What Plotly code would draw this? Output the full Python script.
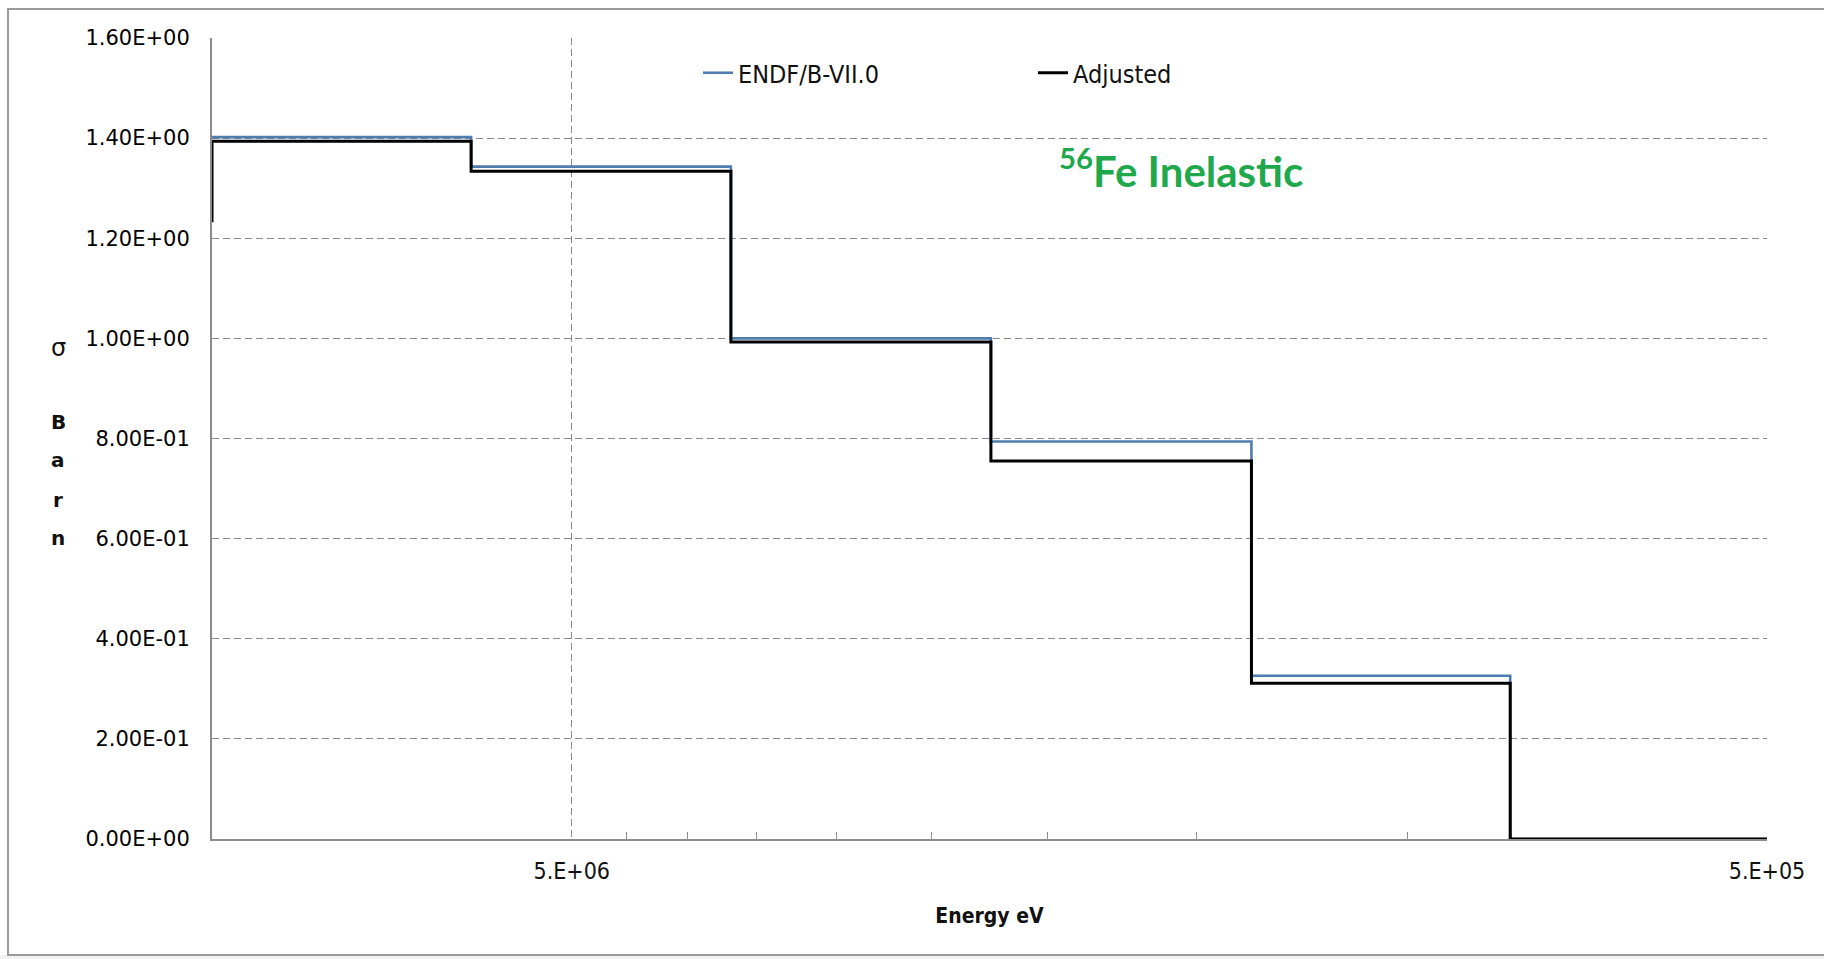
import plotly.graph_objects as go

# ---- data ----
energy_edges_endf = [1.0e7, 6.07e6, 3.68e6, 2.23e6, 1.35e6, 8.2e5, 5.0e5]
sigma_endf = [1.402, 1.343, 1.000, 0.794, 0.326, 0.0, 0.0]

energy_edges_adj = [1.0e7, 1.0e7, 6.07e6, 3.68e6, 2.23e6, 1.35e6, 8.2e5, 5.0e5]
sigma_adj = [1.232, 1.394, 1.334, 0.993, 0.755, 0.311, 0.0, 0.0]

y_tickvals = [0.0, 0.2, 0.4, 0.6, 0.8, 1.0, 1.2, 1.4, 1.6]
y_ticktext = ["0.00E+00", "2.00E-01", "4.00E-01", "6.00E-01", "8.00E-01",
              "1.00E+00", "1.20E+00", "1.40E+00", "1.60E+00"]
x_tickvals = [5.0e6, 5.0e5]
x_ticktext = ["5.E+06", "5.E+05"]
x_minor_vals = [4.5e6, 4.0e6, 3.5e6, 3.0e6, 2.5e6, 2.0e6, 1.5e6, 1.0e6]

series_names = ["ENDF/B-VII.0", "Adjusted"]
title_text = "<sup>56</sup>Fe Inelastic"

# ---- layout constants ----
W, H = 1824, 959
ML, MR, MT, MB = 212, 57, 38, 120
PW, PH = W - ML - MR, H - MT - MB

def px_x(px):
    return (px - ML) / PW

def px_y(py):
    return (H - MB - py) / PH

GRID = "#8a8a8a"
COND = "DejaVu Sans Condensed, Liberation Sans Narrow, DejaVu Sans"

fig = go.Figure()
fig.add_trace(go.Scatter(
    x=energy_edges_endf, y=sigma_endf, mode="lines", line_shape="hv",
    name=series_names[0], line=dict(color="#4F7DAF", width=2.6)))
fig.add_trace(go.Scatter(
    x=energy_edges_adj, y=sigma_adj, mode="lines", line_shape="hv",
    name=series_names[1], line=dict(color="#000000", width=3)))

fig.update_layout(
    width=W, height=H,
    margin=dict(l=ML, r=MR, t=MT, b=MB),
    paper_bgcolor="white", plot_bgcolor="white",
    showlegend=True,
    legend=dict(orientation="h", x=px_x(698), y=px_y(73), xanchor="left", yanchor="middle",
                font=dict(family=COND, size=25, color="#111"),
                entrywidth=290, entrywidthmode="pixels",
                bgcolor="rgba(0,0,0,0)", itemwidth=30),
    xaxis=dict(type="log", range=[7.0, 5.69897], autorange=False,
               tickmode="array", tickvals=x_tickvals, ticktext=x_ticktext,
               tickfont=dict(family=COND, size=23, color="#111"),
               ticks="", ticklabelstandoff=10,
               showgrid=True, gridcolor=GRID, griddash="7px,4px", gridwidth=1,
               showline=True, linecolor="#8c8c8c", linewidth=2, mirror=False,
               zeroline=False,
               minor=dict(tickmode="array", tickvals=x_minor_vals, ticks="inside",
                          ticklen=7, tickcolor="#8c8c8c", tickwidth=1, showgrid=False),
               title=dict(text="<b>Energy eV</b>", standoff=26,
                          font=dict(family=COND, size=21, color="#111"))),
    yaxis=dict(range=[0, 1.6], autorange=False,
               tickmode="array", tickvals=y_tickvals, ticktext=y_ticktext,
               tickfont=dict(family="DejaVu Sans", size=21, color="#000"),
               ticks="", ticklabelstandoff=16,
               showgrid=True, gridcolor=GRID, griddash="7px,4px", gridwidth=1,
               showline=True, linecolor="#8c8c8c", linewidth=2,
               zeroline=False),
)

# y-axis title as stacked letters
letters = [("σ", 348, False, 24), ("B", 422, True, 20), ("a", 460, True, 20),
           ("r", 500, True, 20), ("n", 538, True, 20)]
for ch, py, bold, sz in letters:
    fig.add_annotation(xref="paper", yref="paper", x=px_x(58), y=px_y(py),
                       text=f"<b>{ch}</b>" if bold else ch, showarrow=False,
                       xanchor="center", yanchor="middle",
                       font=dict(family="DejaVu Sans", size=sz, color="#111"))

# chart label
fig.add_annotation(xref="paper", yref="paper", x=px_x(1181), y=px_y(168),
                   text=f"<b>{title_text}</b>", showarrow=False,
                   xanchor="center", yanchor="middle",
                   font=dict(family="Lato, DejaVu Sans", size=42, color="#1FA84C"))

# window chrome / chart frame
fig.add_shape(type="rect", xref="paper", yref="paper",
              x0=px_x(-5), x1=px_x(W + 5), y0=px_y(0), y1=px_y(-10),
              fillcolor="#E4ECF5", line=dict(width=0), layer="below")
fig.add_shape(type="rect", xref="paper", yref="paper",
              x0=px_x(-5), x1=px_x(W + 5), y0=px_y(W), y1=px_y(955),
              fillcolor="#F2F2F2", line=dict(width=0), layer="below")
fig.add_shape(type="rect", xref="paper", yref="paper",
              x0=px_x(8), x1=px_x(W + 10), y0=px_y(955), y1=px_y(9),
              fillcolor="white", line=dict(color="#9a9a9a", width=2), layer="below")

fig.write_html("out.html")
